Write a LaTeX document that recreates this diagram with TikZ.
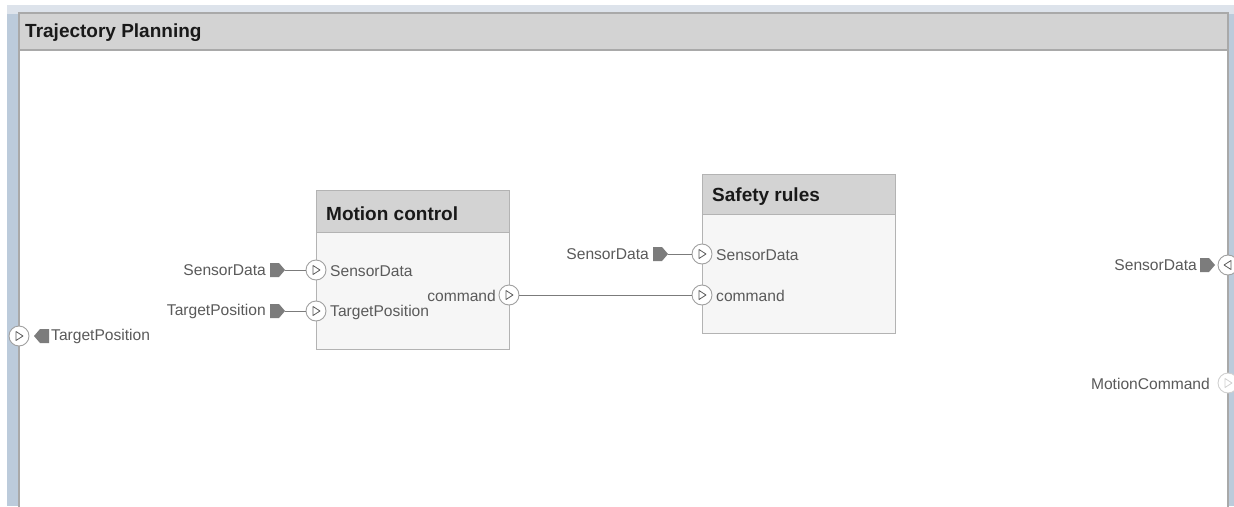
\documentclass[tikz,border=0pt]{standalone}
\usepackage{fontspec}
\setmainfont{Liberation Sans}
\usetikzlibrary{calc}
\definecolor{bandblue}{HTML}{DDE3EB}
\definecolor{stripblue}{HTML}{BCCBDB}
\definecolor{framegray}{HTML}{A9A9A9}
\definecolor{headgray}{HTML}{D3D3D3}
\definecolor{bodygray}{HTML}{F6F6F6}
\definecolor{boxedge}{HTML}{B3B3B3}
\definecolor{labelgray}{HTML}{5A5A5A}
\definecolor{taggray}{HTML}{7C7C7C}
\definecolor{portedge}{HTML}{A0A0A0}
\definecolor{paleport}{HTML}{D0D0D0}
\tikzset{
  titletext/.style={font=\fontsize{19}{22}\selectfont\bfseries, text=black!90, inner sep=0pt},
  lbl/.style={font=\fontsize{15.6}{18}\selectfont, text=labelgray, inner sep=0pt},
  portnode/.style={circle, draw=portedge, fill=white, line width=0.9pt, minimum size=20pt, inner sep=0pt},
  paleportnode/.style={portnode, draw=paleport},
  wire/.style={draw=labelgray!80, line width=0.9pt},
  tri/.style={draw=labelgray, line width=0.8pt, line join=round},
  paletri/.style={draw=paleport, line width=0.8pt, line join=round},
  tagfill/.style={fill=taggray},
  blockbody/.style={draw=boxedge, fill=bodygray, line width=1pt},
  blockhead/.style={draw=boxedge, fill=headgray, line width=1pt},
}
% right-pointing and left-pointing port glyphs, drawn about a port centre
\newcommand{\rtri}[2][tri]{\draw[#1] ($(#2)+(-3,-4.5)$) -- ($(#2)+(4,0)$) -- ($(#2)+(-3,4.5)$) -- cycle;}
\newcommand{\ltri}[2][tri]{\draw[#1] ($(#2)+(3,-4.5)$) -- ($(#2)+(-4,0)$) -- ($(#2)+(3,4.5)$) -- cycle;}
% connector tags: a block with a pointed end; #1 names the tag, #2 is its centre
\newcommand{\tagright}[2]{%
  \coordinate (#1) at #2;
  \coordinate (#1 tip) at ($(#1)+(8,0)$);
  \fill[tagfill] ($(#1)+(-7,-7)$) -- ($(#1)+(2,-7)$) -- (#1 tip) -- ($(#1)+(2,7)$) -- ($(#1)+(-7,7)$) -- cycle;}
\newcommand{\tagleft}[2]{%
  \coordinate (#1) at #2;
  \coordinate (#1 tip) at ($(#1)+(-8,0)$);
  \fill[tagfill] ($(#1)+(7,-7)$) -- ($(#1)+(-2,-7)$) -- (#1 tip) -- ($(#1)+(-2,7)$) -- ($(#1)+(7,7)$) -- cycle;}
\begin{document}
\begin{tikzpicture}[x=1pt, y=-1pt]
\useasboundingbox (0,0) rectangle (1234,506);
\fill[white] (0,0) rectangle (1234,506);
% surrounding canvas
\fill[bandblue] (7,5) rectangle (1234,14);
\fill[stripblue] (7,14) rectangle (19,506);
\fill[stripblue] (1228,14) rectangle (1234,506);

% outer component frame
\begin{scope}
\clip (0,0) rectangle (1234,506);
\draw[draw=framegray, fill=white, line width=1.5pt] (19,13) rectangle (1228,530);
\draw[draw=framegray, fill=headgray, line width=1.5pt] (19,13) rectangle (1228,50);
\end{scope}
\node[titletext, anchor=west] (title) at (25,33) {Trajectory Planning};

% Motion control block
\draw[blockbody] (316,190) rectangle (509,349);
\draw[blockhead] (316,190) rectangle (509,232);
\node[titletext, anchor=west] (mctitle) at (326,214) {Motion control};

% Safety rules block
\draw[blockbody] (702,174) rectangle (895,333);
\draw[blockhead] (702,174) rectangle (895,214);
\node[titletext, anchor=west] (srtitle) at (712,197) {Safety rules};

% external tags feeding Motion control
\tagright{tagsd}{(277,270)}
\node[lbl, anchor=east] (tagsdl) at (266,270) {SensorData};
\tagright{tagtp}{(277,311)}
\node[lbl, anchor=east] (tagtpl) at (266,311) {TargetPosition};

% external tag feeding Safety rules
\tagright{tagsd2}{(660,254)}
\node[lbl, anchor=east] (tagsd2l) at (649,254) {SensorData};

% ports of Motion control
\node[portnode] (mcsd) at (316,270) {};
\node[portnode] (mctp) at (316,311) {};
\node[portnode] (mccmd) at (509,295) {};
\rtri{mcsd} \rtri{mctp} \rtri{mccmd}
\node[lbl, anchor=west] (mcsdl) at (330,271) {SensorData};
\node[lbl, anchor=west] (mctpl) at (330,312) {TargetPosition};
\node[lbl, anchor=east] (mccmdl) at (496,296) {command};

% ports of Safety rules
\node[portnode] (srsd) at (702,254) {};
\node[portnode] (srcmd) at (702,295) {};
\rtri{srsd} \rtri{srcmd}
\node[lbl, anchor=west] (srsdl) at (716,255) {SensorData};
\node[lbl, anchor=west] (srcmdl) at (716,296) {command};

% connections
\draw[wire] (tagsd tip) -- (mcsd);
\draw[wire] (tagtp tip) -- (mctp);
\draw[wire] (tagsd2 tip) -- (srsd);
\draw[wire] (mccmd) -- (srcmd);

% boundary port on the left
\node[portnode] (bltp) at (19,336) {};
\rtri{bltp}
\tagleft{bltag}{(42,336)}
\node[lbl, anchor=west] (bltagl) at (51,336) {TargetPosition};

% boundary ports on the right
\node[portnode] (brsd) at (1228,265) {};
\ltri{brsd}
\tagright{brtag}{(1207,265)}
\node[lbl, anchor=east] (brtagl) at (1197,265) {SensorData};

\node[paleportnode] (brmc) at (1228,383) {};
\rtri[paletri]{brmc}
\node[lbl, anchor=east] (brmcl) at (1210,384) {MotionCommand};
\end{tikzpicture}
\end{document}
